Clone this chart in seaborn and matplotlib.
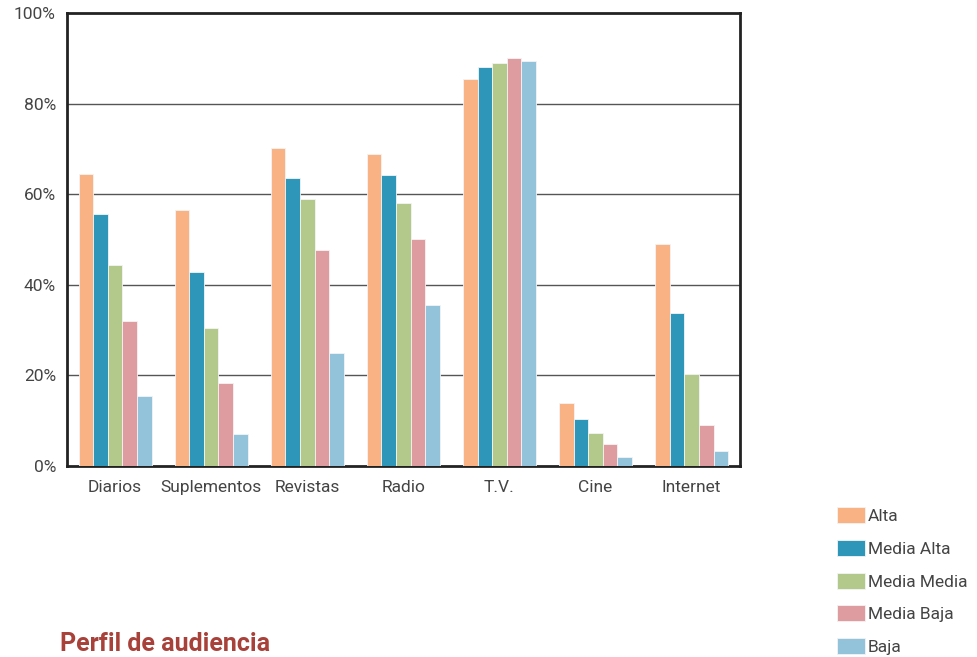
import pandas as pd
import matplotlib.pyplot as plt
import seaborn as sns

medios = ['Diarios', 'Suplementos', 'Revistas', 'Radio', 'T.V.', 'Cine', 'Internet']
niveles = ['Alta', 'Media Alta', 'Media Media', 'Media Baja', 'Baja']

alta = [64.5, 56.6, 70.3, 69.0, 85.5, 13.9, 49.1]
media_alta = [55.7, 42.9, 63.6, 64.3, 88.2, 10.4, 33.8]
media_media = [44.4, 30.5, 59.0, 58.1, 89.1, 7.3, 20.3]
media_baja = [32.0, 18.3, 47.7, 50.2, 90.2, 4.9, 9.1]
baja = [15.5, 7.1, 25.0, 35.6, 89.5, 2.0, 3.3]

colores = ['#F9B283', '#2E96B9', '#B3C98B', '#DE9CA0', '#93C3DA']

series = [alta, media_alta, media_media, media_baja, baja]
rows = []
for nivel, valores in zip(niveles, series):
    for medio, v in zip(medios, valores):
        rows.append({'medio': medio, 'nivel': nivel, 'valor': v})
df = pd.DataFrame(rows)

sns.set_style('white')
plt.rcParams['font.family'] = ['Roboto', 'DejaVu Sans']

fig = plt.figure(figsize=(9.77, 6.57), dpi=100)
ax = fig.add_axes([0.0686, 0.2907, 0.6885, 0.6893])

sns.barplot(data=df, x='medio', y='valor', hue='nivel', order=medios,
            hue_order=niveles, palette=colores, width=0.76, gap=0,
            edgecolor='#f4f4f4', linewidth=0.6, saturation=1, ax=ax, zorder=3)

ax.set_ylim(0, 100)
ax.set_xlim(-0.5, 6.5)
ax.set_yticks([0, 20, 40, 60, 80, 100])
ax.set_yticklabels(['0%', '20%', '40%', '60%', '80%', '100%'])
ax.tick_params(axis='both', length=0, labelsize=12.5, labelcolor='#444444')
ax.tick_params(axis='y', pad=8)
ax.tick_params(axis='x', pad=10)
for y in [20, 40, 60, 80]:
    ax.axhline(y, color='#555555', linewidth=1, zorder=1)
for s in ax.spines.values():
    s.set_color('#222222')
    s.set_linewidth(2)
ax.set_xlabel('')
ax.set_ylabel('')

handles, labels = ax.get_legend_handles_labels()
ax.legend_.remove()
fig.legend(handles, labels, loc='upper left', bbox_to_anchor=(0.853, 0.233),
           frameon=False, fontsize=12.5, handlelength=1.6, handleheight=1.05,
           handletextpad=0.2, labelspacing=0.9, labelcolor='#444444',
           borderaxespad=0, borderpad=0.2)

fig.text(0.061, 0.002, 'Perfil de audiencia', color='#A8413A', fontsize=18,
         fontweight='bold', va='bottom', ha='left')

fig.savefig('out.png', dpi=100)
